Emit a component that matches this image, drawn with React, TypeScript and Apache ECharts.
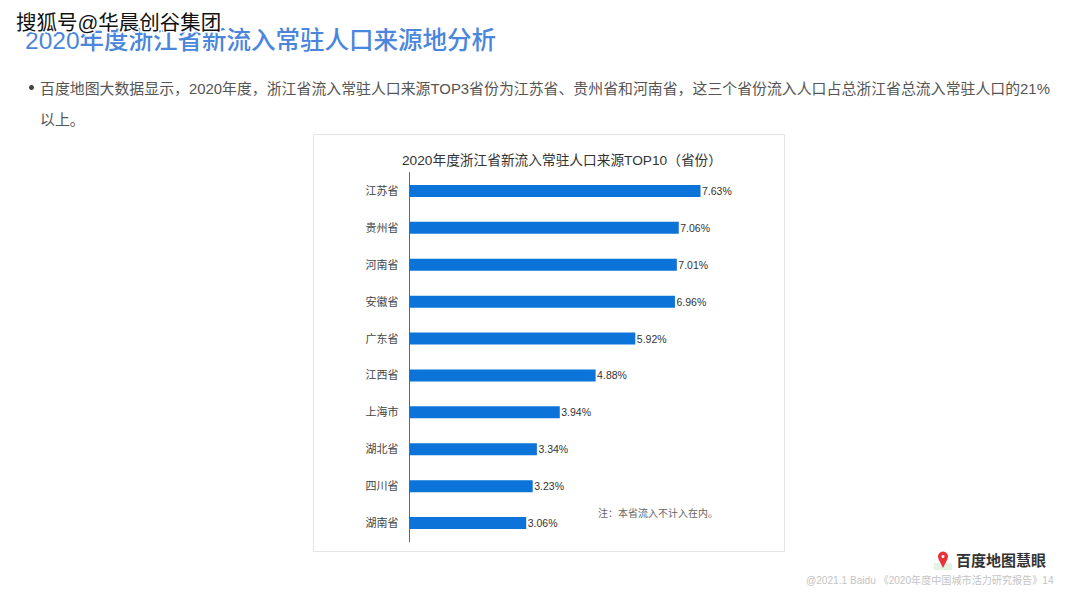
import React, { useEffect, useRef } from "react";
import * as echarts from "echarts";

const provinces = ["江苏省", "贵州省", "河南省", "安徽省", "广东省", "江西省", "上海市", "湖北省", "四川省", "湖南省"];
const shares = [7.63, 7.06, 7.01, 6.96, 5.92, 4.88, 3.94, 3.34, 3.23, 3.06];
const mixed = '"Liberation Sans", "Noto Sans CJK SC", sans-serif';

export default function App() {
  const ref = useRef<HTMLDivElement>(null);
  useEffect(() => {
    const chart = echarts.init(ref.current!, null, { renderer: "svg" });
    chart.setOption({
      animation: false,
      backgroundColor: "#ffffff",
      textStyle: { fontFamily: mixed },
      title: {
        text: "2020年度浙江省新流入常驻人口来源TOP10（省份）",
        left: 402,
        top: 153.5,
        padding: 0,
        textStyle: { fontSize: 13.7, fontWeight: "normal", color: "#333333", fontFamily: mixed },
      },
      grid: { left: 409.5, top: 172.5, width: 381.4, height: 369 },
      xAxis: { type: "value", min: 0, max: 10, show: false },
      yAxis: {
        type: "category",
        inverse: true,
        data: provinces,
        axisLine: { show: true, lineStyle: { color: "#666666", width: 1 } },
        axisTick: { show: false },
        axisLabel: { fontSize: 11, color: "#444444", margin: 11, fontFamily: mixed, padding: [2, 0, 0, 0] },
      },
      series: [
        {
          type: "bar",
          data: shares,
          barWidth: 12,
          itemStyle: { color: "#0c74d8" },
          label: {
            show: true,
            position: "right",
            distance: 1.5,
            fontSize: 10.5,
            color: "#333333",
            fontFamily: mixed,
            padding: [2, 0, 0, 0],
            formatter: (p: any) => p.value.toFixed(2) + "%",
          },
        },
      ],
      graphic: [
        { type: "rect", z: -1, shape: { x: 313.5, y: 134.5, width: 471, height: 417 }, style: { fill: "#ffffff", stroke: "#e4e4e4", lineWidth: 1 } },
        { type: "text", x: 25, y: 40, style: { text: "2020年度浙江省新流入常驻人口来源地分析", fontSize: 24.5, fontWeight: 500, fontFamily: mixed, fill: "#4a86dc", textVerticalAlign: "middle" } },
        { type: "text", z: 10, x: 16, y: 22.5, style: { text: "搜狐号@华晨创谷集团", fontSize: 20.5, fontFamily: mixed, fill: "#111111", stroke: "#ffffff", lineWidth: 3, textVerticalAlign: "middle" } },
        { type: "circle", shape: { cx: 31.5, cy: 87.5, r: 2.5 }, style: { fill: "#444444" } },
        { type: "text", x: 40, y: 89, style: { text: "百度地图大数据显示，2020年度，浙江省流入常驻人口来源TOP3省份为江苏省、贵州省和河南省，这三个省份流入人口占总浙江省总流入常驻人口的21%", fontSize: 14.9, fontFamily: mixed, fill: "#555555", textVerticalAlign: "middle" } },
        { type: "text", x: 40, y: 120, style: { text: "以上。", fontSize: 14.9, fontFamily: mixed, fill: "#555555", textVerticalAlign: "middle" } },
        { type: "text", x: 598, y: 513, style: { text: "注：本省流入不计入在内。", fontSize: 10, fontFamily: mixed, fill: "#666666", textVerticalAlign: "middle" } },
        { type: "rect", shape: { x: 934, y: 563, width: 18, height: 7 }, style: { fill: "#e4f2e4" } },
        { type: "polygon", shape: { points: [[938.5, 559], [947.5, 559], [943, 568]] }, style: { fill: "#e8323c" } },
        { type: "circle", shape: { cx: 943, cy: 556.5, r: 5 }, style: { fill: "#e8323c" } },
        { type: "circle", shape: { cx: 943, cy: 556.5, r: 1.5 }, style: { fill: "#ffffff" } },
        { type: "text", x: 956, y: 560, style: { text: "百度地图慧眼", fontSize: 15, fontWeight: "bold", fontFamily: mixed, fill: "#333333", textVerticalAlign: "middle" } },
        { type: "text", x: 806, y: 580, style: { text: "@2021.1 Baidu 《2020年度中国城市活力研究报告》14", fontSize: 10.1, fontFamily: mixed, fill: "#c4c4c4", textVerticalAlign: "middle" } },
      ],
    });
    return () => chart.dispose();
  }, []);
  return <div ref={ref} style={{ position: "absolute", left: 0, top: 0, width: 1080, height: 606 }} />;
}
